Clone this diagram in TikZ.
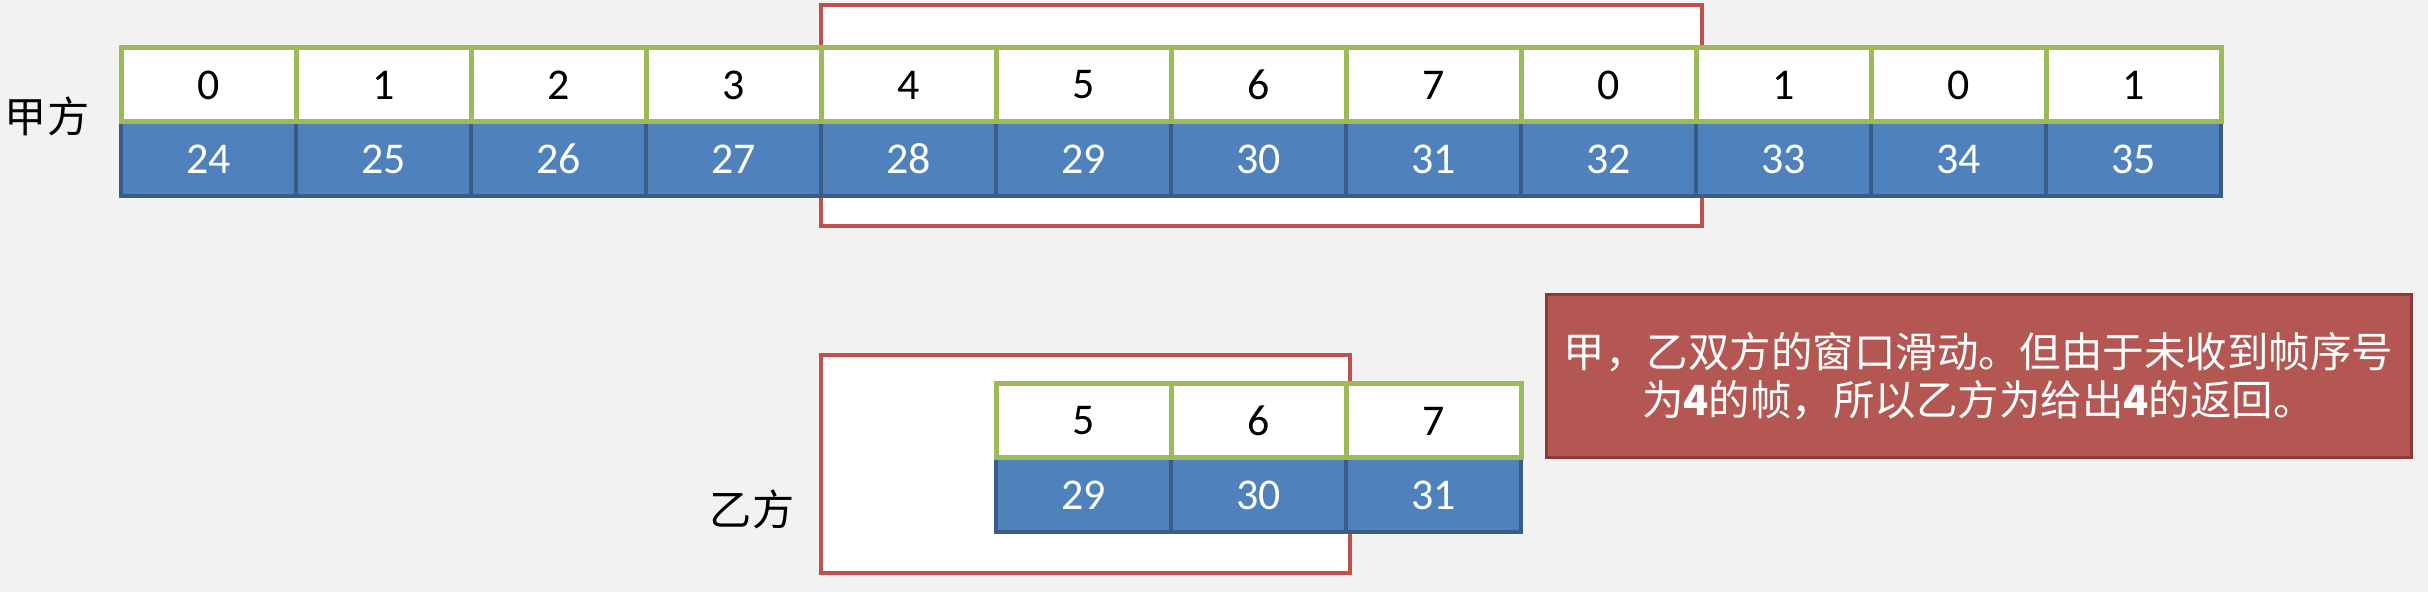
\documentclass[tikz,border=0pt]{standalone}
\usepackage{fontspec}
\setmainfont{Carlito}
\newfontfamily\cjk{Noto Sans CJK SC}
\usetikzlibrary{positioning}

\definecolor{bggray}{RGB}{242,242,242}
\definecolor{seqgreen}{RGB}{155,187,89}
\definecolor{numblue}{RGB}{79,129,189}
\definecolor{numedge}{RGB}{56,93,138}
\definecolor{winred}{RGB}{192,80,77}
\definecolor{notefill}{RGB}{180,87,83}
\definecolor{noteedge}{RGB}{140,58,55}

\begin{document}
\begin{tikzpicture}[node distance = 17.5mm,
        seq/.style={rectangle, draw=seqgreen, line width=0.5mm, fill=white, inner sep=0pt, outer sep=0pt, minimum width=17.5mm, minimum height=7.4mm, font=\fontsize{12.5}{15}\selectfont},
        num/.style={rectangle, draw=numedge, line width=0.35mm, fill=numblue, text=white, inner sep=0pt, outer sep=0pt, minimum width=17.5mm, minimum height=7.4mm, font=\fontsize{12.5}{15}\selectfont},
        window/.style={rectangle, draw=winred, line width=0.4mm, fill=white, inner sep=0pt},
        side/.style={inner sep=0pt, font=\cjk\fontsize{12}{14}\selectfont},
        note/.style={rectangle, draw=noteedge, line width=0.3mm, fill=notefill, text=white, align=center, inner sep=0pt, minimum width=86.5mm, minimum height=16.3mm, font=\cjk\fontsize{11.8}{13.6}\selectfont}
    ]

    % Background
    \fill[bggray] (0,0) rectangle (24.28,5.92);

    % Windows (behind the frames)
    \node[window, minimum width=88.1mm, minimum height=22.1mm] (jwin) at (12.615,4.765) {};
    \node[window, minimum width=52.9mm, minimum height=21.8mm] (ywin) at (10.855,1.28) {};

    % Nodes: sender
    \node[num] (jn1) at (2.085,4.33) {24};
    \node[num, right of = jn1] (jn2) {25};
    \node[num, right of = jn2] (jn3) {26};
    \node[num, right of = jn3] (jn4) {27};
    \node[num, right of = jn4] (jn5) {28};
    \node[num, right of = jn5] (jn6) {29};
    \node[num, right of = jn6] (jn7) {30};
    \node[num, right of = jn7] (jn8) {31};
    \node[num, right of = jn8] (jn9) {32};
    \node[num, right of = jn9] (jn10) {33};
    \node[num, right of = jn10] (jn11) {34};
    \node[num, right of = jn11] (jn12) {35};

    \node[seq] (js1) at (2.085,5.07) {0};
    \node[seq, right of = js1] (js2) {1};
    \node[seq, right of = js2] (js3) {2};
    \node[seq, right of = js3] (js4) {3};
    \node[seq, right of = js4] (js5) {4};
    \node[seq, right of = js5] (js6) {5};
    \node[seq, right of = js6] (js7) {6};
    \node[seq, right of = js7] (js8) {7};
    \node[seq, right of = js8] (js9) {0};
    \node[seq, right of = js9] (js10) {1};
    \node[seq, right of = js10] (js11) {0};
    \node[seq, right of = js11] (js12) {1};

    % Nodes: receiver
    \node[num] (yn1) at (10.835,0.97) {29};
    \node[num, right of = yn1] (yn2) {30};
    \node[num, right of = yn2] (yn3) {31};

    \node[seq] (ys1) at (10.835,1.71) {5};
    \node[seq, right of = ys1] (ys2) {6};
    \node[seq, right of = ys2] (ys3) {7};

    % Labels
    \node[side] (jia) at (0.47,4.76) {甲方};
    \node[side] (yi) at (7.52,0.83) {乙方};

    \node[note] (msg) at (19.785,2.155) {甲，乙双方的窗口滑动。但由于未收到帧序号\\为\textbf{4}的帧，所以乙方为给出\textbf{4}的返回。};

\end{tikzpicture}
\end{document}
